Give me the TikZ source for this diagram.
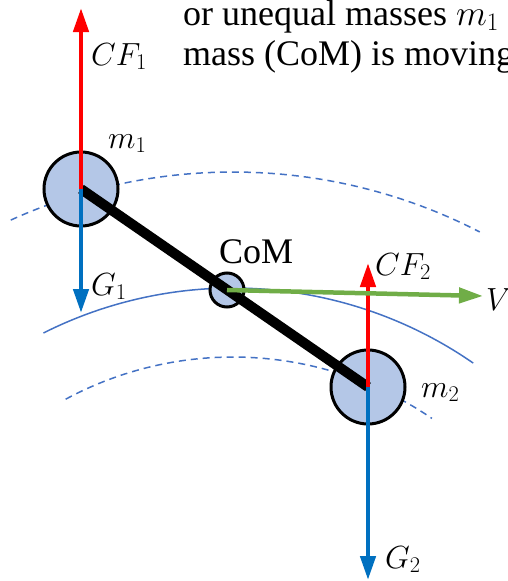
\RequirePackage{fix-cm}
\documentclass[tikz,border=0pt]{standalone}
\usepackage{fontspec}
\setmainfont{Liberation Serif}
\usepackage{tikz}
\usetikzlibrary{arrows, arrows.meta}
\definecolor{massfill}{HTML}{B4C7E7}
\definecolor{orbit}{HTML}{4472C4}
\definecolor{gblue}{HTML}{0070C0}
\definecolor{vgreen}{HTML}{70AD47}

\begin{document}
\begin{tikzpicture}[x=1pt,y=-1pt,
	mass/.style={circle, draw=black, line width=3pt, fill=massfill, inner sep=0pt},
	force/.style={line width=4.5pt, >={Triangle[length=24pt,width=15pt]}, ->},
	lab/.style={anchor=base west, inner sep=0pt, font=\fontsize{32}{38}\selectfont},
	txt/.style={anchor=base west, inner sep=0pt, font=\rmfamily\fontsize{36}{42}\selectfont},
	orbitline/.style={orbit, line width=1.5pt},
	orbitdash/.style={orbitline, dash pattern=on 7pt off 5pt}]
			
			\useasboundingbox (0,0) rectangle (508,581);
			
			\node[txt] (line1) at (183,25) {or unequal masses $m_1$};
			\node[txt] (line2) at (183,65) {mass (CoM) is moving};
			
			\coordinate (O) at (233,710);
			\draw[orbitdash] (O) ++(245.6:538) arc[start angle=245.6, end angle=297.3, radius=538];
			\draw[orbitline] (O) ++(243.3:422) arc[start angle=243.3, end angle=304.7, radius=422];
			\draw[orbitdash] (O) ++(241.7:353) arc[start angle=241.7, end angle=304.3, radius=353];
			
			\node[mass, minimum size=74pt] (m1) at (81,189) {};
			\node[mass, minimum size=74pt] (m2) at (368,387) {};
			\node[mass, minimum size=34pt] (com) at (227,290) {};
			\draw[line width=10pt] (m1.center) -- (m2.center);
			
			\coordinate (cf1) at (81,8);
			\coordinate (g1) at (81,313);
			\coordinate (cf2) at (368,263);
			\coordinate (g2) at (368,580);
			\coordinate (v) at (483,296);
			
			\draw[force, red] (m1.center) -- (cf1);
			\draw[force, gblue] (m1.center) -- (g1);
			\draw[force, red] (m2.center) -- (cf2);
			\draw[force, gblue] (m2.center) -- (g2);
			\draw[force, vgreen] (com.center) -- (v);
			
			\node[lab] (cf1lab) at (91,65) {$CF_1$};
			\node[lab] (m1lab) at (108,148) {$m_1$};
			\node[lab] (g1lab) at (91,295) {$G_1$};
			\node[txt] (comlab) at (219,263) {CoM};
			\node[lab] (cf2lab) at (375,275) {$CF_2$};
			\node[lab] (vlab) at (486,310) {$V$};
			\node[lab] (m2lab) at (421,397) {$m_2$};
			\node[lab] (g2lab) at (385,568) {$G_2$};
		\end{tikzpicture}
\end{document}
